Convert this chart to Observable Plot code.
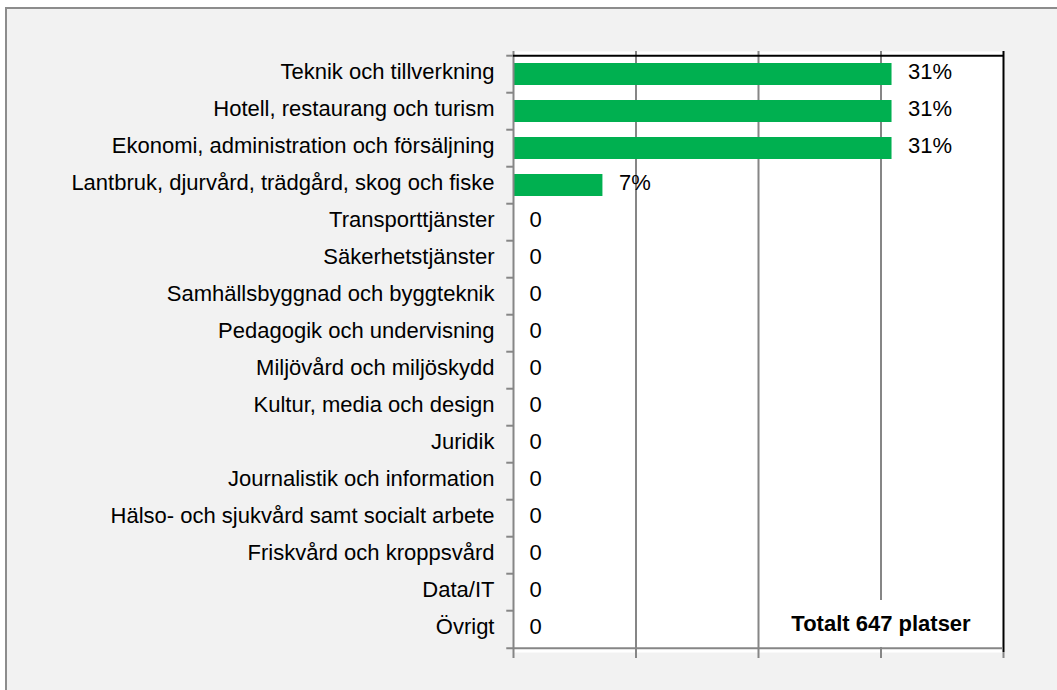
<!DOCTYPE html>
<html>
<head>
<meta charset="utf-8">
<script src="https://cdn.jsdelivr.net/npm/d3@7"></script>
<script src="https://cdn.jsdelivr.net/npm/@observablehq/plot@0.6"></script>
<style>
  html, body { margin: 0; padding: 0; background: #ffffff; }
  #bg { position: absolute; left: 5px; top: 7px; width: 1060px; height: 690px;
        background: #f2f2f2; border-left: 2px solid #8c8c8c; border-top: 2px solid #8c8c8c; }
  #chart { position: absolute; left: 0; top: 0; }
</style>
</head>
<body>
<div id="bg"></div>
<div id="chart"></div>
<script>
const categories = [
  "Teknik och tillverkning",
  "Hotell, restaurang och turism",
  "Ekonomi, administration och försäljning",
  "Lantbruk, djurvård, trädgård, skog och fiske",
  "Transporttjänster",
  "Säkerhetstjänster",
  "Samhällsbyggnad och byggteknik",
  "Pedagogik och undervisning",
  "Miljövård och miljöskydd",
  "Kultur, media och design",
  "Juridik",
  "Journalistik och information",
  "Hälso- och sjukvård samt socialt arbete",
  "Friskvård och kroppsvård",
  "Data/IT",
  "Övrigt"
];
const values = [30.9, 30.9, 30.9, 7.3, 0, 0, 0, 0, 0, 0, 0, 0, 0, 0, 0, 0];
const valueLabels = ["31%", "31%", "31%", "7%", "0", "0", "0", "0", "0", "0", "0", "0", "0", "0", "0", "0"];
const xTicks = [0, 10, 20, 30, 40];
const gridTicks = [10, 20, 30];
const totalText = "Totalt 647 platser";

const data = categories.map((c, i) => ({cat: c, value: values[i], label: valueLabels[i]}));
const lastCat = categories[categories.length - 1];
const firstCat = categories[0];

const W = 1057, H = 690;
const mt = 51, mb = 38, ml = 513, mr = 54;
const step = (H - mt - mb) / categories.length;
const font = "'Liberation Sans', Arial, sans-serif";
const gray = "#868686";

const chart = Plot.plot({
  width: W,
  height: H,
  marginTop: mt,
  marginBottom: mb,
  marginLeft: ml,
  marginRight: mr,
  style: {background: "transparent", fontFamily: font, fontSize: "22px", color: "black"},
  x: {domain: [0, 40]},
  y: {domain: categories, paddingInner: 0.41, paddingOuter: 0.205},
  marks: [
    Plot.frame({fill: "white", stroke: null}),
    Plot.gridX(gridTicks, {stroke: gray, strokeOpacity: 1, strokeWidth: 2}),
    Plot.barX(data, {y: "cat", x: "value", fill: "#00b050", insetLeft: 1}),
    Plot.text(data, {y: "cat", x: "value", text: "label", dx: 16, dy: -3, textAnchor: "start",
      fontSize: 22, fill: "black", fontFamily: font}),
    Plot.text([totalText], {x: () => 30, y: () => lastCat, text: d => d,
      dy: -6, fontSize: 22, fontWeight: "bold", fill: "black", fontFamily: font,
      stroke: "white", strokeWidth: 32, paintOrder: "stroke", strokeLinejoin: "round"}),
    // axis lines / borders
    Plot.ruleX([0], {stroke: gray, strokeWidth: 2}),
    Plot.ruleX([40], {stroke: "black", strokeWidth: 2}),
    Plot.ruleY([firstCat], {y: d => d, dy: -step / 2, x1: 0, x2: 40, stroke: "black", strokeWidth: 2}),
    Plot.ruleY([lastCat], {y: d => d, dy: step / 2, x1: -0.55, x2: 40, stroke: gray, strokeWidth: 2}),
    // y tick marks at category boundaries
    Plot.ruleY(categories, {y: d => d, dy: -step / 2, x1: -0.55, x2: 0, stroke: gray, strokeWidth: 2}),
    // x tick marks (no labels)
    Plot.axisX({ticks: xTicks, tickSize: 6, tickFormat: () => "", label: null, stroke: gray, strokeWidth: 2}),
    Plot.axisY({tickSize: 0, tickPadding: 19, dy: -3, label: null, fontSize: 22, fill: "black", fontFamily: font})
  ]
});
document.getElementById("chart").appendChild(chart);
</script>
</body>
</html>
